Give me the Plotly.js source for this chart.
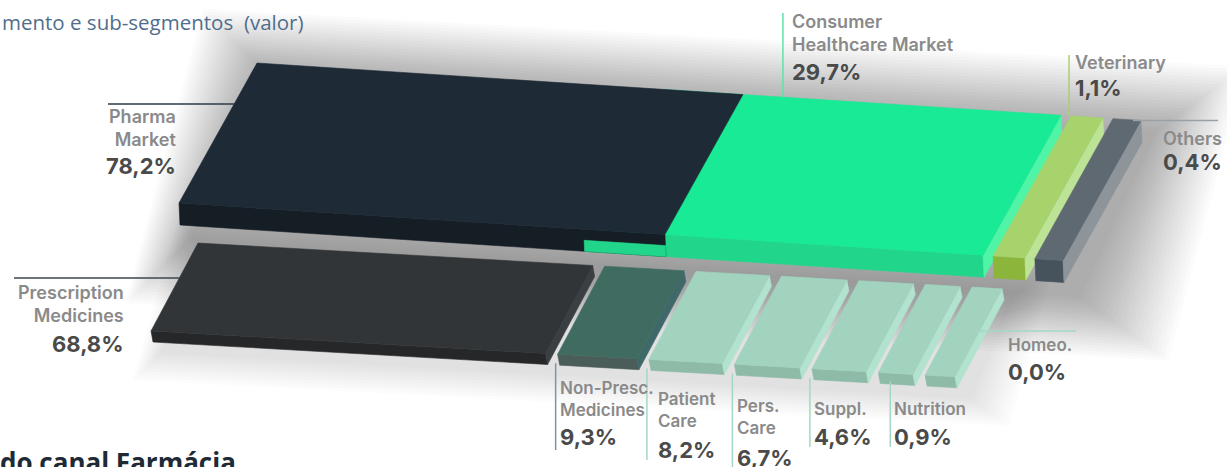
<!DOCTYPE html>
<html><head><meta charset="utf-8">
<script src="https://cdn.plot.ly/plotly-3.0.1.min.js"></script>
<style>html,body{margin:0;padding:0;background:#fff;overflow:hidden} #chart{width:1227px;height:467px;}</style>
</head><body><div id="chart"></div>
<script>
// ---------------- DATA ----------------
const topCategories = ['Pharma Market', 'Consumer Healthcare Market', 'Veterinary', 'Others'];
const topLabels = ['Pharma<br>Market', 'Consumer<br>Healthcare Market', 'Veterinary', 'Others'];
const topValues = [78.2, 29.7, 1.1, 0.4];
const subCategories = ['Prescription Medicines', 'Non-Presc. Medicines', 'Patient Care', 'Pers. Care', 'Suppl.', 'Nutrition', 'Homeo.'];
const subLabels = ['Prescription<br>Medicines', 'Non-Presc.<br>Medicines', 'Patient<br>Care', 'Pers.<br>Care', 'Suppl.', 'Nutrition', 'Homeo.'];
const subValues = [68.8, 9.3, 8.2, 6.7, 4.6, 0.9, 0.0];
// sub-segments making up each top segment (Pharma = Rx + Non-Presc.; Consumer = Non-Presc. ... Homeo.)
const topComposition = [[0, 1], [1, 6], null, null];
const titleText = 'mento e sub-segmentos  (valor)';
const footerText = 'do canal Farmácia';

// ---------------- STYLE ----------------
const topFill  = ['#1E2A35', '#19EA96', '#A6D36B', '#5F6971'];
const topFront = ['#151D25', '#21D68B', '#8BB53B', '#47535C'];
const topSide  = ['#1E2A35', '#4FF4A6', '#BDE397', '#8D959A'];
const subFill  = ['#323538', '#3F6B61', '#A1D3BF', '#A1D3BF', '#A1D3BF', '#A1D3BF', '#A1D3BF'];
const subFront = ['#252729', '#4B5D59', '#8DBBA7', '#8DBBA7', '#8DBBA7', '#8DBBA7', '#8DBBA7'];
const subSide  = ['#3B3F43', '#3F6868', '#B2E3CF', '#B2E3CF', '#B2E3CF', '#B2E3CF', '#B2E3CF'];
const LABEL_FONT = {family: 'Inter, Lato, sans-serif', size: 18, color: '#8A8A8A', weight: 600};
const SUB_LABEL_FONT = {family: 'Inter, Lato, sans-serif', size: 17, color: '#8A8A8A', weight: 600};
const NUM_FONT = {family: 'Inter, Lato, sans-serif', size: 22, color: '#4A4A4A', weight: 700};

// ---------------- GEOMETRY (display scale) ----------------
const fmt = v => v.toFixed(1).replace('.', ',') + '%';
const visW = v => 30 + 5.3 * v;   // visual width scale with a minimum width
const GAP = 12;
const subStart = [], subEnd = [];
let cur = 0;
subValues.forEach(v => { subStart.push(cur); cur += visW(v); subEnd.push(cur); cur += GAP; });
const topStart = [], topEnd = [];
let tail = subEnd[subEnd.length - 1];
topValues.forEach((v, i) => {
  const c = topComposition[i];
  if (c) { topStart.push(subStart[c[0]]); topEnd.push(subEnd[c[1]]); }
  else { tail += GAP - 2; topStart.push(tail); tail += visW(v) - 4; topEnd.push(tail); }
});

const rowTop = {o: [257, 63], s: 0.065, d: [-78, 140], h: [1, 22]};
const rowSub = {o: [198, 243], s: 0.057, d: [-47, 88], h: [2, 11]};
function P(r, u, d, h) {
  return [r.o[0] + u + d * r.d[0] + h * r.h[0], r.o[1] + u * r.s + d * r.d[1] + h * r.h[1]];
}
function poly(pts, color, opacity) {
  const xs = pts.map(p => p[0]), ys = pts.map(p => p[1]);
  xs.push(xs[0]); ys.push(ys[0]);
  return {type: 'scatter', mode: 'lines', x: xs, y: ys, fill: 'toself', fillcolor: color,
    line: {width: opacity ? 0 : 0.6, color: color}, hoverinfo: 'skip', showlegend: false, opacity: opacity || 1};
}
function lineTr(x, y, color) {
  return {type: 'scatter', mode: 'lines', x: x, y: y, line: {width: 1.5, color: color}, hoverinfo: 'skip', showlegend: false};
}
function topFace(r, u0, u1) { return [P(r,u0,0,0), P(r,u1,0,0), P(r,u1,1,0), P(r,u0,1,0)]; }
function frontFace(r, u0, u1, h0) { h0 = h0 || 0; return [P(r,u0,1,h0), P(r,u1,1,h0), P(r,u1,1,1), P(r,u0,1,1)]; }
function sideFace(r, u1) { return [P(r,u1,0,0), P(r,u1,1,0), P(r,u1,1,1), P(r,u1,0,1)]; }
function edgeXAtY(r, u, h, y) {
  const a = P(r, u, 0, h), b = P(r, u, 1, h);
  const t = (y - a[1]) / (b[1] - a[1]);
  return a[0] + t * (b[0] - a[0]);
}

const traces = [];
// ---- soft shadows ----
function shadow(r, u0, u1, off, steps, stepK, alpha) {
  const bl = P(r,u0,0,0), br = P(r,u1,0,0), fr = P(r,u1,1,1), fl = P(r,u0,1,1);
  for (let i = steps; i >= 1; i--) {
    const k = i * stepK;
    traces.push(poly([[bl[0]-k+off[0], bl[1]-k+off[1]], [br[0]+k*1.4+off[0], br[1]-k+off[1]],
                      [fr[0]+k*1.4+off[0], fr[1]+k+off[1]], [fl[0]-k+off[0], fl[1]+k+off[1]]], '#000', alpha));
  }
}
shadow(rowTop, topStart[0], topEnd[3], [12, 12], 22, 3, 0.011);
shadow(rowSub, subStart[0], subEnd[6], [10, 8], 10, 3, 0.009);

// ---- top row ----
function box(r, u0, u1, cTop, cFront, cSide) {
  traces.push(poly(frontFace(r, u0, u1), cFront));
  traces.push(poly(sideFace(r, u1), cSide));
  traces.push(poly(topFace(r, u0, u1), cTop));
}
box(rowTop, topStart[1], topEnd[1], topFill[1], topFront[1], topSide[1]);
box(rowTop, topStart[2], topEnd[2], topFill[2], topFront[2], topSide[2]);
box(rowTop, topStart[3], topEnd[3], topFill[3], topFront[3], topSide[3]);
traces.push(poly(frontFace(rowTop, topStart[0], topEnd[0]), topFront[0]));
traces.push(poly(topFace(rowTop, topStart[0], topEnd[0]), topFill[0]));
// consumer bar peeking under the pharma bar where they overlap
traces.push(poly(frontFace(rowTop, topStart[1] - 2, topEnd[0], 0.5), topFront[1]));

// ---- sub row ----
subValues.forEach((v, i) => box(rowSub, subStart[i], subEnd[i], subFill[i], subFront[i], subSide[i]));

// ---- leader lines & labels ----
const ann = [];
function label(x, y, text, xa, font) {
  ann.push({x: x, y: y, xref: 'x', yref: 'y', text: text, showarrow: false, xanchor: xa, yanchor: 'middle',
    align: xa === 'right' ? 'right' : 'left', font: font});
}
// Pharma
{
  const y = 104, xe = edgeXAtY(rowTop, topStart[0], 0, y);
  traces.push(lineTr([108, xe], [y, y], '#2B3A47'));
  label(178, 128, topLabels[0], 'right', LABEL_FONT);
  label(178, 166, fmt(topValues[0]), 'right', NUM_FONT);
}
// Consumer
{
  const p = P(rowTop, topEnd[0] + 40, 0, 0);
  traces.push(lineTr([p[0], p[0]], [p[1], 13], '#5EE3A6'));
  label(p[0] + 7, 33, topLabels[1], 'left', LABEL_FONT);
  label(p[0] + 7, 72, fmt(topValues[1]), 'left', NUM_FONT);
}
// Veterinary
{
  const p = P(rowTop, topStart[2], 0, 0);
  traces.push(lineTr([p[0] - 2, p[0] - 2], [p[1], 55], '#A6D36B'));
  label(p[0] + 2, 62, topLabels[2], 'left', LABEL_FONT);
  label(p[0] + 2, 88, fmt(topValues[2]), 'left', NUM_FONT);
}
// Others
{
  const p = P(rowTop, topEnd[3], 0, 0);
  traces.push(lineTr([p[0] - 8, 1218], [p[1], p[1]], '#9AA1A6'));
  label(1224, 138, topLabels[3], 'right', LABEL_FONT);
  label(1224, 162, fmt(topValues[3]), 'right', NUM_FONT);
}
// Prescription
{
  const y = 278, xe = edgeXAtY(rowSub, subStart[0], 0, y);
  traces.push(lineTr([14, xe], [y, y], '#3A4550'));
  label(126, 304, subLabels[0], 'right', LABEL_FONT);
  label(126, 344, fmt(subValues[0]), 'right', NUM_FONT);
}
// vertical leaders for the smaller sub-segments
const subLineEnd = [null, 450, 460, 470, 447, 447];
const subLabelY = [null, 399, 410, 417, 409, 409];
const subNumY = [null, 437, 450, 458, 437, 437];
const subTextShift = [null, 2, 9, 3, 2, 2];
const subLineColor = [null, '#7F93A3', '#A3D8C3', '#A3D8C3', '#A3D8C3', '#A3D8C3'];
for (let i = 1; i <= 5; i++) {
  const p = P(rowSub, subStart[i], 1, 1);
  const lx = i === 5 ? p[0] + 10 : p[0] - 4;
  traces.push(lineTr([lx, lx], [p[1] - 2, subLineEnd[i]], subLineColor[i]));
  label(lx + subTextShift[i], subLabelY[i], subLabels[i], 'left', SUB_LABEL_FONT);
  label(lx + subTextShift[i], subNumY[i], fmt(subValues[i]), 'left', NUM_FONT);
}
// Homeo.
{
  const y = 331, xs = edgeXAtY(rowSub, subEnd[6], 0, y);
  traces.push(lineTr([xs - 4, 1076], [y, y], '#A3D8C3'));
  label(1006, 345, subLabels[6], 'left', SUB_LABEL_FONT);
  label(1006, 372, fmt(subValues[6]), 'left', NUM_FONT);
}
// footer (partly cut off by the bottom edge, as in the source)
traces.push({type: 'scatter', mode: 'text', x: [0], y: [465], text: ['<b>' + footerText + '</b>'],
  textposition: 'middle right', cliponaxis: false, hoverinfo: 'skip', showlegend: false,
  textfont: {family: 'Open Sans, sans-serif', size: 26, color: '#1E2A35'}});
// title
ann.push({x: 0, y: 22, xref: 'x', yref: 'y', text: titleText, showarrow: false, xanchor: 'left', yanchor: 'middle',
  font: {family: 'Open Sans, sans-serif', size: 20.5, color: '#4F6E8B'}});

const layout = {
  width: 1227, height: 467, margin: {l: 0, r: 0, t: 0, b: 0}, paper_bgcolor: '#fff', plot_bgcolor: '#fff',
  xaxis: {range: [0, 1227], visible: false, fixedrange: true},
  yaxis: {range: [467, 0], visible: false, fixedrange: true},
  showlegend: false, annotations: ann
};
Plotly.newPlot('chart', traces, layout, {displayModeBar: false, staticPlot: true});
</script></body></html>
